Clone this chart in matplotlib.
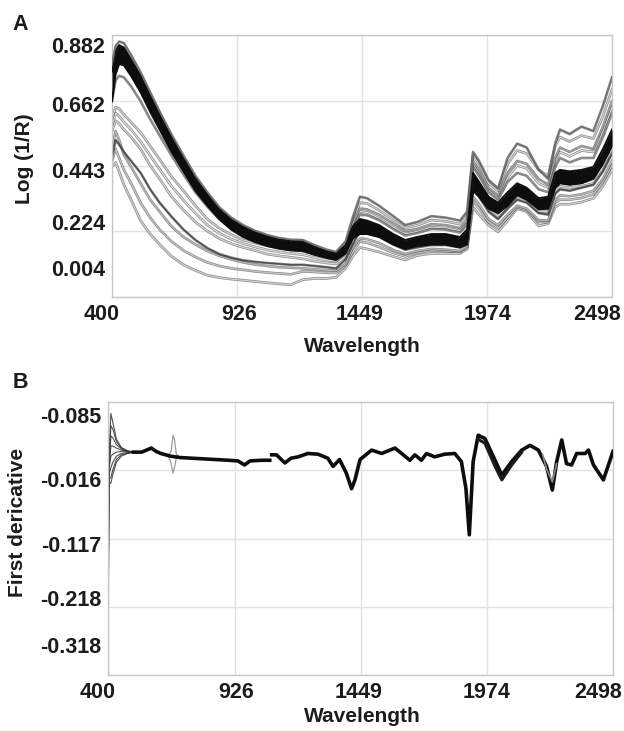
import numpy as np
import matplotlib
matplotlib.use("Agg")
import matplotlib.pyplot as plt
import matplotlib.patheffects as pe
from matplotlib.transforms import ScaledTranslation

plt.rcParams['font.family'] = ['Liberation Sans', 'DejaVu Sans']
plt.rcParams['font.weight'] = 'bold'

# ---- panel A: log(1/R) spectra, values read at these wavelengths ----
wl = [400, 415, 430, 450, 480, 520, 560, 600, 650, 700, 750, 800, 850, 900, 950,
      1000, 1050, 1100, 1150, 1200, 1250, 1300, 1340, 1380, 1410, 1440, 1470, 1520,
      1580, 1630, 1680, 1740, 1800, 1860, 1890, 1915, 1940, 1980, 2020, 2060, 2100,
      2140, 2190, 2230, 2260, 2280, 2320, 2370, 2420, 2460, 2498]

core_hi = [0.76, 0.83, 0.848, 0.84, 0.80, 0.745, 0.68, 0.615, 0.54, 0.47, 0.405, 0.35, 0.30, 0.265, 0.24,
           0.222, 0.208, 0.198, 0.192, 0.19, 0.172, 0.158, 0.15, 0.178, 0.24, 0.265, 0.26, 0.245,
           0.215, 0.195, 0.205, 0.215, 0.215, 0.205, 0.23, 0.42, 0.39, 0.34, 0.32, 0.355, 0.385,
           0.37, 0.335, 0.34, 0.42, 0.43, 0.425, 0.43, 0.44, 0.50, 0.565]
core_lo = [0.66, 0.75, 0.785, 0.78, 0.745, 0.69, 0.625, 0.565, 0.49, 0.425, 0.36, 0.31, 0.265, 0.23, 0.205,
           0.188, 0.175, 0.166, 0.16, 0.158, 0.145, 0.135, 0.128, 0.15, 0.20, 0.215, 0.215, 0.205,
           0.18, 0.165, 0.175, 0.18, 0.18, 0.17, 0.18, 0.36, 0.34, 0.30, 0.285, 0.31, 0.345,
           0.33, 0.298, 0.30, 0.37, 0.385, 0.38, 0.385, 0.40, 0.45, 0.51]
s_top = [0.78, 0.845, 0.86, 0.855, 0.815, 0.757, 0.69, 0.625, 0.548, 0.478, 0.41, 0.355, 0.305, 0.27, 0.245,
         0.226, 0.212, 0.202, 0.196, 0.195, 0.178, 0.163, 0.155, 0.19, 0.27, 0.34, 0.335, 0.31,
         0.275, 0.245, 0.255, 0.275, 0.27, 0.26, 0.29, 0.49, 0.46, 0.396, 0.368, 0.47, 0.518,
         0.505, 0.431, 0.40, 0.52, 0.565, 0.55, 0.575, 0.56, 0.645, 0.74]
s_up2 = [0.72, 0.79, 0.805, 0.80, 0.765, 0.71, 0.645, 0.585, 0.512, 0.445, 0.38, 0.328, 0.283, 0.248, 0.222,
         0.205, 0.192, 0.183, 0.177, 0.175, 0.16, 0.147, 0.14, 0.17, 0.25, 0.30, 0.298, 0.28,
         0.25, 0.225, 0.232, 0.248, 0.245, 0.235, 0.26, 0.46, 0.43, 0.37, 0.345, 0.42, 0.46,
         0.45, 0.40, 0.38, 0.47, 0.505, 0.49, 0.51, 0.50, 0.575, 0.66]
s_up3 = [0.66, 0.73, 0.745, 0.74, 0.71, 0.66, 0.60, 0.545, 0.478, 0.415, 0.355, 0.307, 0.265, 0.233, 0.21,
         0.194, 0.182, 0.173, 0.168, 0.166, 0.152, 0.14, 0.133, 0.16, 0.23, 0.28, 0.278, 0.262,
         0.232, 0.21, 0.218, 0.232, 0.23, 0.22, 0.245, 0.44, 0.41, 0.355, 0.33, 0.39, 0.42,
         0.41, 0.365, 0.355, 0.44, 0.47, 0.455, 0.47, 0.47, 0.54, 0.62]
low1 = [0.60, 0.64, 0.635, 0.615, 0.59, 0.555, 0.51, 0.465, 0.407, 0.36, 0.31, 0.265, 0.235, 0.213, 0.195,
        0.185, 0.176, 0.168, 0.163, 0.158, 0.148, 0.14, 0.134, 0.16, 0.25, 0.32, 0.318, 0.295,
        0.262, 0.235, 0.244, 0.262, 0.258, 0.248, 0.275, 0.48, 0.45, 0.385, 0.36, 0.45, 0.495,
        0.485, 0.43, 0.41, 0.51, 0.54, 0.525, 0.545, 0.535, 0.61, 0.70]
low6 = [0.58, 0.62, 0.61, 0.59, 0.565, 0.525, 0.478, 0.432, 0.375, 0.328, 0.285, 0.245, 0.218, 0.198, 0.183,
        0.172, 0.162, 0.155, 0.15, 0.146, 0.136, 0.128, 0.124, 0.15, 0.225, 0.29, 0.288, 0.268,
        0.238, 0.215, 0.223, 0.238, 0.235, 0.226, 0.25, 0.45, 0.42, 0.36, 0.335, 0.405, 0.445,
        0.435, 0.385, 0.37, 0.46, 0.49, 0.475, 0.495, 0.49, 0.56, 0.64]
low2 = [0.56, 0.595, 0.585, 0.565, 0.54, 0.50, 0.445, 0.40, 0.34, 0.295, 0.255, 0.225, 0.20, 0.183, 0.17,
        0.16, 0.148, 0.142, 0.137, 0.132, 0.124, 0.118, 0.115, 0.14, 0.20, 0.235, 0.235, 0.22,
        0.192, 0.172, 0.18, 0.19, 0.188, 0.18, 0.20, 0.38, 0.355, 0.30, 0.275, 0.31, 0.34,
        0.33, 0.29, 0.29, 0.36, 0.375, 0.37, 0.375, 0.385, 0.43, 0.49]
low5 = [0.47, 0.53, 0.515, 0.49, 0.46, 0.42, 0.365, 0.32, 0.273, 0.23, 0.195, 0.168, 0.148, 0.136, 0.127,
        0.122, 0.118, 0.115, 0.112, 0.112, 0.108, 0.104, 0.10, 0.13, 0.18, 0.225, 0.222, 0.208,
        0.18, 0.162, 0.17, 0.178, 0.178, 0.17, 0.19, 0.37, 0.34, 0.29, 0.265, 0.30, 0.33,
        0.32, 0.285, 0.28, 0.35, 0.365, 0.36, 0.37, 0.38, 0.425, 0.485]
low3 = [0.50, 0.56, 0.53, 0.48, 0.44, 0.385, 0.33, 0.29, 0.24, 0.205, 0.18, 0.158, 0.142, 0.13, 0.12,
        0.113, 0.108, 0.104, 0.102, 0.10, 0.097, 0.094, 0.092, 0.115, 0.17, 0.20, 0.198, 0.185,
        0.162, 0.148, 0.158, 0.165, 0.163, 0.158, 0.175, 0.34, 0.315, 0.265, 0.245, 0.28, 0.31,
        0.30, 0.262, 0.26, 0.33, 0.345, 0.342, 0.348, 0.36, 0.40, 0.46]
low7 = [0.46, 0.50, 0.47, 0.43, 0.385, 0.32, 0.27, 0.23, 0.19, 0.16, 0.138, 0.12, 0.108, 0.10, 0.095,
        0.09, 0.086, 0.083, 0.08, 0.09, 0.088, 0.085, 0.085, 0.11, 0.155, 0.19, 0.186, 0.172,
        0.152, 0.14, 0.152, 0.16, 0.158, 0.155, 0.17, 0.325, 0.30, 0.255, 0.235, 0.27, 0.305,
        0.295, 0.255, 0.255, 0.32, 0.33, 0.33, 0.336, 0.348, 0.39, 0.445]
low4 = [0.44, 0.455, 0.425, 0.38, 0.33, 0.26, 0.215, 0.18, 0.14, 0.112, 0.093, 0.077, 0.069, 0.064, 0.06,
        0.056, 0.052, 0.048, 0.045, 0.062, 0.066, 0.066, 0.07, 0.10, 0.14, 0.17, 0.165, 0.155,
        0.14, 0.128, 0.143, 0.15, 0.15, 0.15, 0.165, 0.305, 0.28, 0.245, 0.222, 0.26, 0.30,
        0.29, 0.242, 0.25, 0.305, 0.315, 0.315, 0.322, 0.335, 0.375, 0.43]

# ---- panel B: first derivative ----
fan_wl = [400, 406, 412, 420, 435, 455, 480, 505]
fan_vals = [
    [-0.29, 0.020, 0.068, 0.055, 0.030, 0.018, 0.013, 0.011],
    [-0.25, 0.010, 0.050, 0.045, 0.027, 0.017, 0.013, 0.011],
    [-0.20, 0.000, 0.035, 0.032, 0.022, 0.016, 0.012, 0.011],
    [-0.15, -0.005, 0.020, 0.020, 0.017, 0.014, 0.012, 0.011],
    [-0.10, -0.010, 0.005, 0.008, 0.011, 0.012, 0.011, 0.011],
    [-0.06, -0.020, -0.012, -0.004, 0.005, 0.009, 0.010, 0.011],
    [-0.04, -0.028, -0.027, -0.015, 0.000, 0.007, 0.009, 0.011],
    [-0.03, -0.034, -0.035, -0.022, -0.004, 0.005, 0.009, 0.011],
]
d_wl = [505, 540, 580, 600, 620, 660, 700, 750, 800, 850, 900, 940, 967, 990, 1040, 1072, 1076,
        1080, 1100, 1135, 1160, 1190, 1230, 1272, 1313, 1335, 1362, 1390, 1412, 1426, 1447,
        1495, 1537, 1592, 1620, 1654, 1675, 1702, 1723, 1757, 1799, 1841, 1868, 1887, 1901,
        1917, 1938, 1966, 2008, 2036, 2077, 2119, 2153, 2188, 2222, 2246, 2264, 2285, 2305,
        2326, 2347, 2382, 2396, 2417, 2458, 2498]
d_main = [0.011, 0.011, 0.017, 0.012, 0.009, 0.005, 0.003, 0.002, 0.001, 0.000, -0.001, -0.002, -0.008,
          -0.002, -0.001, -0.001, np.nan, 0.007, 0.007, -0.005, 0.002, 0.004, 0.009, 0.008, 0.002,
          -0.010, 0.000, -0.020, -0.043, -0.030, 0.000, 0.014, 0.009, 0.017, 0.009, -0.001, 0.007,
          -0.001, 0.009, 0.004, 0.008, 0.009, -0.003, -0.0425, -0.111, -0.003, 0.036, 0.031,
          -0.001, -0.023, -0.003, 0.014, 0.021, 0.014, -0.010, -0.045, -0.003, 0.029, -0.006,
          -0.008, 0.009, 0.009, 0.014, -0.008, -0.030, 0.012]
spread_wl = [1938, 1966, 2008, 2036, 2077, 2119]
spread_v = [0.030, 0.024, -0.010, -0.030, -0.008, 0.011]
gray_wl = [2205, 2222, 2246, 2264]
gray_v = [0.008, -0.014, -0.033, -0.006]
loop_wl = [650, 662, 670, 676, 684, 700]
loop_up = [0.006, 0.012, 0.036, 0.030, 0.008, 0.003]
loop_dn = [0.006, -0.006, -0.020, -0.012, 0.003, 0.003]

txt = '#1c1c1c'
fig = plt.figure(figsize=(6.24, 7.31), dpi=100)
axA = fig.add_axes([112 / 624, 1 - 297 / 731, 500 / 624, 262 / 731])
axB = fig.add_axes([108 / 624, 1 - 675 / 731, 505 / 624, 273 / 731])


def spec(ax, x, y, color, lw=0.9, edge='#2a2a2a', z=2):
    ax.plot(x, y, color=color, lw=lw, zorder=z, solid_joinstyle='round',
            path_effects=[pe.Stroke(linewidth=lw + 1.0, foreground=edge, alpha=0.55), pe.Normal()])


# lower / lighter spectra first
for y, c in [(low4, '#d0d0d0'), (low7, '#c4c4c4'), (low3, '#b8b8b8'), (low2, '#d4d4d4'),
             (low6, '#dcdcdc'), (low1, '#d0d0d0'), (low5, '#4a4a4a')]:
    spec(axA, wl, y, c)
spec(axA, wl, s_up3, '#8a8a8a')
spec(axA, wl, s_up2, '#a0a0a0')
axA.fill_between(wl, core_lo, core_hi, color='#0d0d0d', lw=0, zorder=3)
axA.plot(wl, core_hi, color='#0d0d0d', lw=1.4, zorder=3)
axA.plot(wl, core_lo, color='#0d0d0d', lw=1.4, zorder=3)
spec(axA, wl, s_top, '#707070', z=4)

# panel B
for row in fan_vals:
    axB.plot(fan_wl, row, color='#333333', lw=0.8, alpha=0.85, zorder=2)
axB.plot(loop_wl, loop_up, color='#9a9a9a', lw=0.9, zorder=2)
axB.plot(loop_wl, loop_dn, color='#9a9a9a', lw=0.9, zorder=2)
axB.plot(d_wl, d_main, color='#0d0d0d', lw=2.6, zorder=3, solid_joinstyle='round')
axB.plot(spread_wl, spread_v, color='#1a1a1a', lw=2.2, zorder=3)
axB.plot(gray_wl, gray_v, color='#8a8a8a', lw=1.2, zorder=4)

xt = [400, 926, 1449, 1974, 2498]
xoffs = [-10, 2, -2, 0, -15]
for ax, yt, ylab, offs in [
        (axA, [0.004, 0.224, 0.443, 0.662, 0.882], ['0.004', '0.224', '0.443', '0.662', '0.882'],
         [-29, -9, 4, 3, 10]),
        (axB, [-0.318, -0.218, -0.117, -0.016, 0.085], ['-0.318', '-0.218', '-0.117', '-0.016', '-0.085'],
         [-30, -9, 5, 9, 13])]:
    ax.set_xlim(400, 2498)
    ax.set_ylim(yt[0], yt[-1])
    ax.set_xticks(xt)
    ax.set_xticklabels([str(v) for v in xt])
    ax.set_yticks(yt)
    ax.set_yticklabels(ylab)
    ax.grid(True, color='#e2e2e2', lw=1.0, zorder=0)
    ax.set_axisbelow(True)
    for s in ax.spines.values():
        s.set_color('#c8c8c8')
        s.set_linewidth(1.0)
    ax.tick_params(length=0, labelsize=15.5, labelcolor=txt, pad=5)
    for lbl, dy in zip(ax.get_yticklabels(), offs):
        lbl.set_transform(lbl.get_transform() + ScaledTranslation(0, -dy / 100, fig.dpi_scale_trans))
    for lbl, dx in zip(ax.get_xticklabels(), xoffs):
        lbl.set_transform(lbl.get_transform() + ScaledTranslation(dx / 100, 0, fig.dpi_scale_trans))

fig.text(20 / 624, 1 - 24 / 731, 'A', fontsize=15.5, color=txt, ha='center', va='center')
fig.text(20 / 624, 1 - 383 / 731, 'B', fontsize=15.5, color=txt, ha='center', va='center')
fig.text(362 / 624, 1 - 346 / 731, 'Wavelength', fontsize=15, color=txt, ha='center', va='center')
fig.text(362 / 624, 1 - 716 / 731, 'Wavelength', fontsize=15, color=txt, ha='center', va='center')
fig.text(24 / 624, 1 - 159 / 731, 'Log (1/R)', fontsize=15, color=txt, rotation=90,
         ha='center', va='center')
fig.text(18 / 624, 1 - 522 / 731, 'First dericative', fontsize=15, color=txt, rotation=90,
         ha='center', va='center')

fig.savefig('out.png', dpi=100)
